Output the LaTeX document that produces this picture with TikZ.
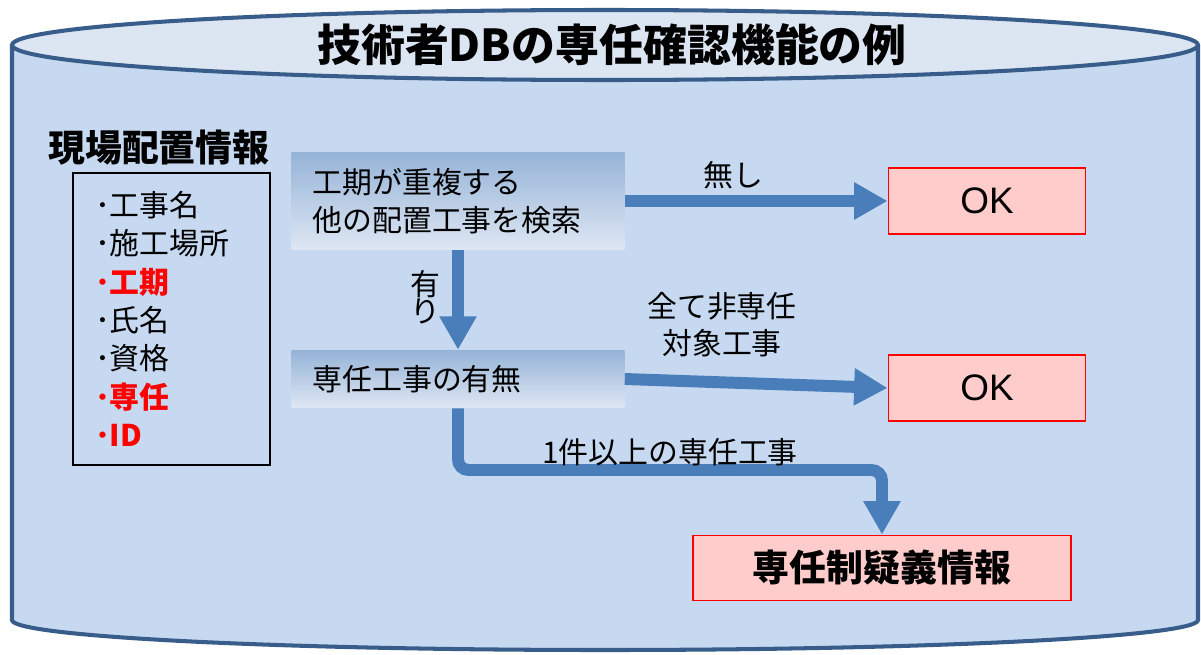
\documentclass[tikz,border=0pt]{standalone}
\usepackage{fontspec}
\setmainfont{Noto Sans CJK JP}
\newfontfamily\latinfont{Liberation Sans}
\usetikzlibrary{arrows.meta,positioning}
\definecolor{dbline}{RGB}{56,93,138}
\definecolor{dbbody}{RGB}{198,217,240}
\definecolor{dbtop}{RGB}{220,230,242}
\definecolor{flowblue}{RGB}{74,126,187}
\definecolor{okfill}{RGB}{255,204,204}
\definecolor{stepdark}{RGB}{149,179,215}
\definecolor{steplight}{RGB}{222,231,243}

\begin{document}
\begin{tikzpicture}[x=0.02cm, y=0.02cm,
    flow/.style={draw=flowblue, line width=6.8pt, -{Triangle[width=20pt,length=19pt]}},
    stepbox/.style={top color=stepdark, bottom color=steplight, minimum width=6.66cm, inner xsep=0.42cm, text width=5.82cm, align=left, font=\fontsize{17}{22}\selectfont},
    okbox/.style={draw=red, line width=1.1pt, fill=okfill, minimum width=3.94cm, minimum height=1.32cm, font=\fontsize{21}{25}\selectfont\latinfont},
    lbl/.style={align=center, font=\fontsize{17}{21}\selectfont}]
		\useasboundingbox (0,0) rectangle (1201,654);

		% database cylinder
		\fill[dbbody] (12,609) -- (12,34) arc[start angle=180, end angle=360, x radius=593, y radius=30] -- (1198,609) -- cycle;
		\draw[dbline, line width=2.3pt] (12,609) -- (12,34) arc[start angle=180, end angle=360, x radius=593, y radius=30] -- (1198,609);
		\draw[dbline, line width=2.3pt, fill=dbtop] (605,609) ellipse [x radius=593, y radius=35];
		\node[font=\fontsize{25}{30}\selectfont\bfseries] (title) at (612,609) {技術者DBの専任確認機能の例};

		% site information
		\node[font=\fontsize{21}{25}\selectfont\bfseries] (infohead) at (159,506) {現場配置情報};
		\node[draw, line width=0.8pt, minimum width=3.94cm, minimum height=5.84cm, inner xsep=0.44cm, text width=3.06cm, align=left, font=\fontsize{17}{21.8}\selectfont] (info) at (171.5,335)
			{･工事名\\･施工場所\\{\color{red}\bfseries ･工期}\\･氏名\\･資格\\{\color{red}\bfseries ･専任}\\{\color{red}\bfseries ･ID}};

		% flow
		\node[stepbox, minimum height=1.96cm] (search) at (458,453) {工期が重複する\\他の配置工事を検索};
		\node[stepbox, minimum height=1.16cm] (check) at (458,275) {専任工事の有無};
		\node[okbox] (ok1) at (987,453) {OK};
		\node[okbox] (ok2) at (987,266) {OK};
		\node[okbox, minimum width=7.56cm, minimum height=1.3cm, font=\fontsize{21}{25}\selectfont\bfseries] (doubt) at (882,86) {専任制疑義情報};
		\coordinate (bend) at (882,184);

		\draw[flow] (search.east) -- (ok1.west);
		\draw[flow] (search.south) -- (check.north);
		\draw[flow] (check.east) -- (ok2.west);
		\draw[flow, rounded corners=6pt] (check.south) |- (bend) -- (doubt.north);

		\node[lbl] (none) at (733,479) {無し};
		\node[lbl, font=\fontsize{17}{15.5}\selectfont] (found) at (425,357) {有\\り};
		\node[lbl] (allnon) at (722,329) {全て非専任\\対象工事};
		\node[lbl] (many) at (670,202) {1件以上の専任工事};
	\end{tikzpicture}
\end{document}
